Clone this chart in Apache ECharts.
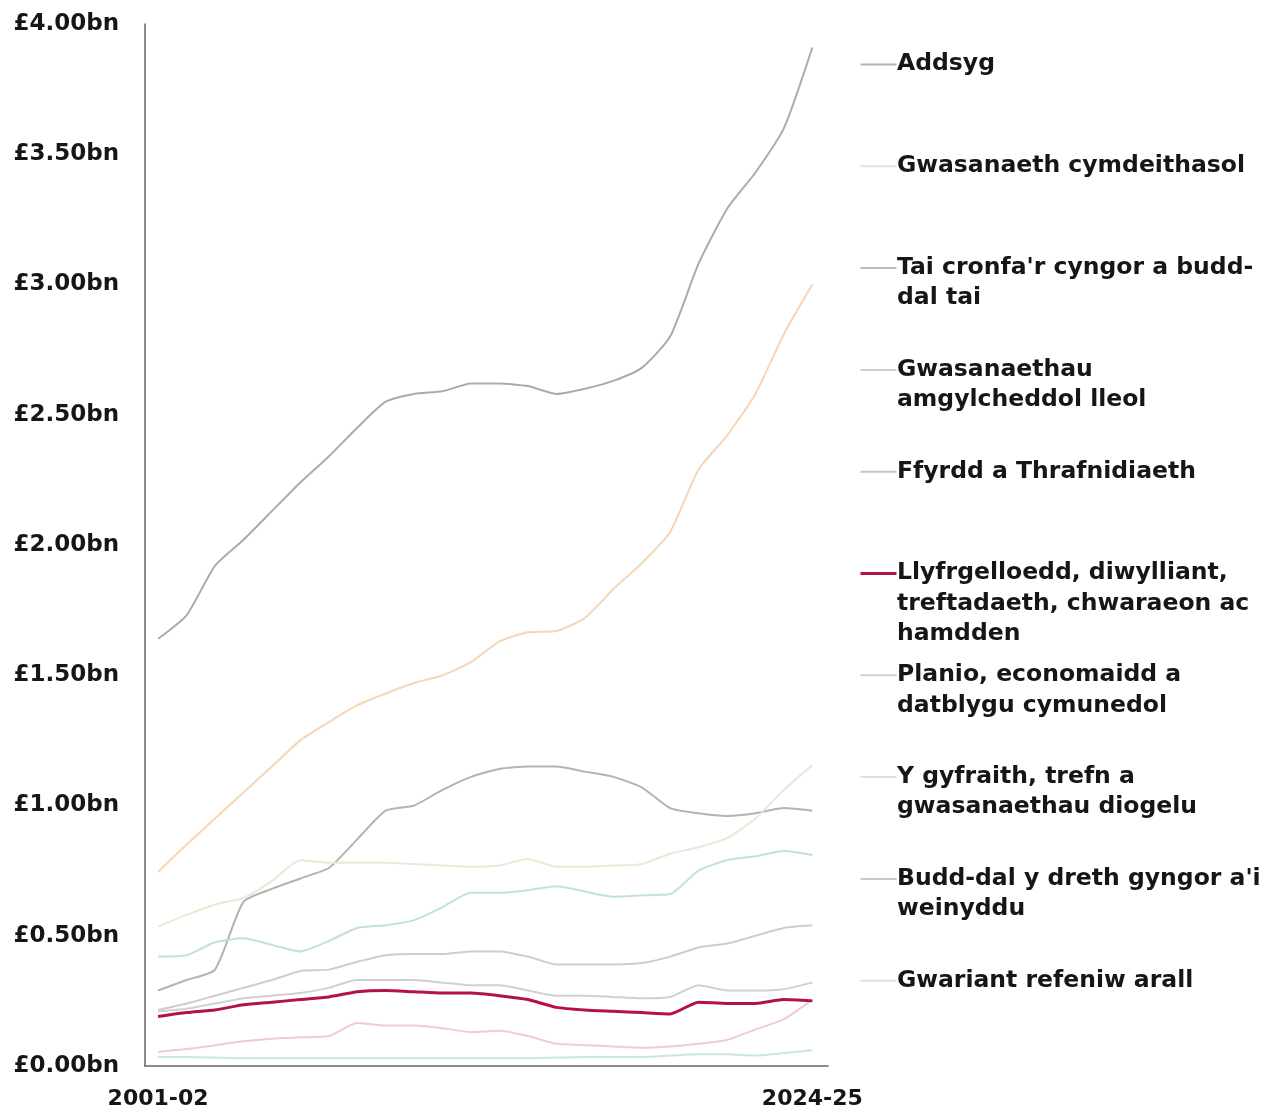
<!DOCTYPE html>
<html>
<head>
<meta charset="utf-8">
<script src="https://cdn.jsdelivr.net/npm/echarts@6/dist/echarts.min.js"></script>
<style>
html,body{margin:0;padding:0;background:#fff;}
#c{width:1270px;height:1113px;}
</style>
</head>
<body>
<div id="c"></div>
<script>
const years = ['2001-02','2002-03','2003-04','2004-05','2005-06','2006-07','2007-08','2008-09','2009-10','2010-11','2011-12','2012-13','2013-14','2014-15','2015-16','2016-17','2017-18','2018-19','2019-20','2020-21','2021-22','2022-23','2023-24','2024-25'];

const names = ['Addsyg','Gwasanaeth cymdeithasol',"Tai cronfa'r cyngor a budd-dal tai",'Gwasanaethau amgylcheddol lleol','Ffyrdd a Thrafnidiaeth','Llyfrgelloedd, diwylliant, treftadaeth, chwaraeon ac hamdden','Planio, economaidd a datblygu cymunedol','Y gyfraith, trefn a gwasanaethau diogelu',"Budd-dal y dreth gyngor a'i weinyddu",'Gwariant refeniw arall'];

const legendLabels = ['Addsyg','Gwasanaeth cymdeithasol',"Tai cronfa'r cyngor a budd-\ndal tai",'Gwasanaethau\namgylcheddol lleol','Ffyrdd a Thrafnidiaeth','Llyfrgelloedd, diwylliant,\ntreftadaeth, chwaraeon ac\nhamdden','Planio, economaidd a\ndatblygu cymunedol','Y gyfraith, trefn a\ngwasanaethau diogelu',"Budd-dal y dreth gyngor a'i\nweinyddu",'Gwariant refeniw arall'];

// values in £bn
const addysg      = [1.64,1.73,1.92,2.02,2.13,2.24,2.34,2.45,2.55,2.58,2.59,2.62,2.62,2.61,2.58,2.60,2.63,2.68,2.80,3.08,3.29,3.43,3.60,3.91];
const cymdeithasol= [0.745,0.85,0.95,1.05,1.15,1.25,1.32,1.385,1.43,1.47,1.50,1.55,1.63,1.665,1.67,1.72,1.83,1.93,2.05,2.29,2.42,2.58,2.81,3.00];
const tai         = [0.29,0.33,0.37,0.63,0.68,0.72,0.76,0.87,0.98,1.00,1.06,1.11,1.14,1.15,1.15,1.13,1.11,1.07,0.99,0.97,0.96,0.97,0.99,0.98];
const amgylchedd  = [0.215,0.24,0.27,0.30,0.33,0.365,0.37,0.40,0.425,0.43,0.43,0.44,0.44,0.42,0.39,0.39,0.39,0.395,0.42,0.455,0.47,0.50,0.53,0.54];
const ffyrdd      = [0.21,0.22,0.24,0.26,0.27,0.28,0.30,0.33,0.33,0.33,0.32,0.31,0.31,0.29,0.27,0.27,0.265,0.26,0.265,0.31,0.29,0.29,0.295,0.32];
const llyfrgell   = [0.19,0.205,0.215,0.235,0.245,0.255,0.265,0.285,0.29,0.285,0.28,0.28,0.27,0.255,0.225,0.215,0.21,0.205,0.20,0.245,0.24,0.24,0.255,0.25];
const planio      = [0.055,0.065,0.08,0.095,0.105,0.11,0.115,0.165,0.155,0.155,0.145,0.13,0.135,0.115,0.085,0.08,0.075,0.07,0.075,0.085,0.10,0.14,0.18,0.255];
const cyfraith    = [0.42,0.425,0.475,0.49,0.465,0.44,0.48,0.53,0.54,0.56,0.61,0.665,0.665,0.675,0.69,0.67,0.65,0.655,0.66,0.75,0.79,0.805,0.825,0.81];
const buddDal     = [0.035,0.035,0.033,0.03,0.03,0.03,0.03,0.03,0.03,0.03,0.03,0.03,0.03,0.03,0.033,0.035,0.035,0.035,0.04,0.045,0.045,0.04,0.05,0.06];
const arall       = [0.535,0.58,0.62,0.645,0.71,0.79,0.78,0.78,0.78,0.775,0.77,0.765,0.77,0.795,0.765,0.765,0.77,0.775,0.815,0.84,0.875,0.95,1.06,1.155];

const yTicks = [0,0.5,1,1.5,2,2.5,3,3.5,4];

const seriesValues = [addysg,cymdeithasol,tai,amgylchedd,ffyrdd,llyfrgell,planio,cyfraith,buddDal,arall];
const lineColors = ['#ababab','#f6d6b6','#b3b3b3','#d2c9d4','#cfd3cf','#b5123f','#f1cbd3','#c2e1dc','#c9e5e5','#eee7d6'];
const legendIconColors = ['#b4b4b4','#e2e2e2','#bdbdbd','#cfcfcf','#c4c4c4','#b5123f','#d2d2d2','#e0e0e0','#c8c8c8','#dedede'];
const highlight = 5;

const FONT = '"DejaVu Sans", sans-serif';
const chart = echarts.init(document.getElementById('c'), null, {renderer:'canvas'});

const series = names.map((n,i)=>({
  name:n, type:'line', smooth:0.2, symbol:'none',
  z: i===highlight ? 10 : 2,
  lineStyle:{color:lineColors[i], width: i===highlight ? 3 : 2},
  itemStyle:{color:lineColors[i]},
  data: seriesValues[i].map((v,k)=>[k,v])
}));

const graphic = [];
legendLabels.forEach((lab,i)=>{
  const y = 63 + i*101.8;
  graphic.push({type:'line', left:858, top:y-1, shape:{x1:0,y1:0,x2:36,y2:0},
    style:{stroke:legendIconColors[i], lineWidth: i===highlight?3:2}});
  graphic.push({type:'text', left:897, top:y-14,
    style:{text:lab, font:'bold 23.5px '+FONT, fill:'#161616', lineHeight:30.5}});
});

chart.setOption({
  animation:false,
  backgroundColor:'#fff',
  grid:{left:145, right:442, top:24, bottom:47, containLabel:false},
  xAxis:{type:'value', min:-0.46, max:23.55,
    axisLine:{show:true, onZero:false, lineStyle:{color:'#666', width:1.5}},
    axisTick:{show:false}, splitLine:{show:false},
    axisLabel:{customValues:[0,23], formatter:v=>years[v], margin:22,
      fontFamily:FONT, fontWeight:'bold', fontSize:22, color:'#161616'}},
  yAxis:{type:'value', min:0, max:4, interval:0.5,
    axisLine:{show:true, onZero:false, lineStyle:{color:'#666', width:1.5}},
    axisTick:{show:false}, splitLine:{show:false},
    axisLabel:{customValues:yTicks, formatter:v=>'£'+v.toFixed(2)+'bn', margin:26,
      fontFamily:FONT, fontWeight:'bold', fontSize:23, color:'#161616'}},
  graphic: graphic,
  series: series
});
</script>
</body>
</html>
